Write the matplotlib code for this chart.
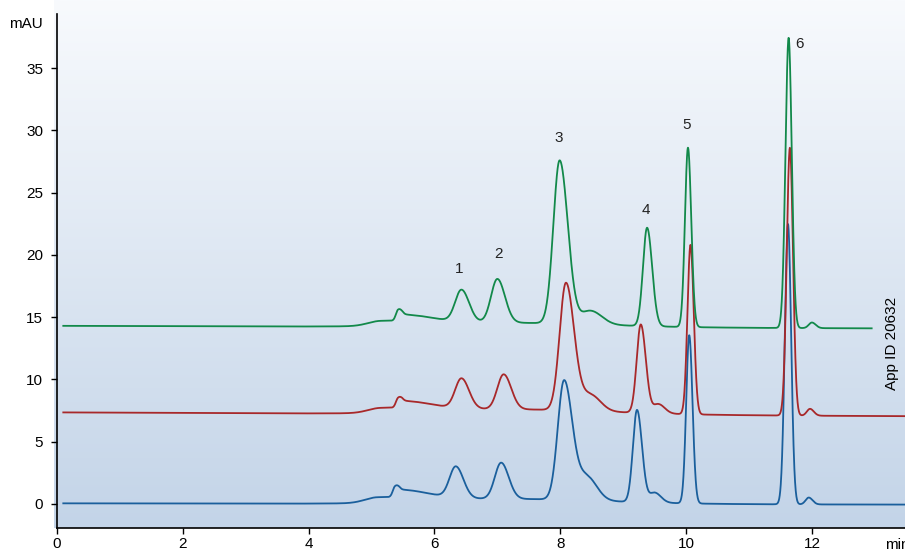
import numpy as np
import matplotlib
matplotlib.use("Agg")
import matplotlib.pyplot as plt
from matplotlib.colors import LinearSegmentedColormap

plt.rcParams['font.family'] = ['Liberation Sans', 'DejaVu Sans']

# ---- data: peak tables (time min, height mAU, left width, right width)
blue_t  = [5.10, 5.37, 5.45, 6.34, 7.06, 7.25, 8.06, 8.42, 9.22, 9.50, 10.05, 11.62, 11.95]
blue_h  = [0.45, 0.70, 0.60, 2.50, 2.90, 0.40, 9.50, 1.90, 7.40, 0.80, 13.50, 22.50, 0.55]
blue_sl = [0.20, 0.035, 0.05, 0.10, 0.10, 1.20, 0.10, 0.15, 0.065, 0.08, 0.048, 0.050, 0.05]
blue_sr = [0.80, 0.05, 0.45, 0.12, 0.12, 1.50, 0.13, 0.16, 0.08, 0.10, 0.052, 0.050, 0.06]
blue_base = [0.05, -0.05]

red_t  = [5.15, 5.42, 5.50, 6.43, 7.10, 7.30, 8.09, 8.48, 9.28, 9.56, 10.07, 11.65, 11.97]
red_h  = [0.40, 0.65, 0.55, 2.40, 2.80, 0.40, 10.20, 1.30, 7.10, 0.75, 13.60, 21.50, 0.55]
red_sl = [0.20, 0.035, 0.05, 0.10, 0.10, 1.20, 0.10, 0.15, 0.065, 0.08, 0.048, 0.050, 0.05]
red_sr = [0.80, 0.05, 0.45, 0.12, 0.12, 1.50, 0.13, 0.16, 0.08, 0.10, 0.052, 0.050, 0.06]
red_base = [7.35, 7.05]

green_t  = [5.15, 5.42, 5.50, 6.43, 7.00, 7.20, 7.99, 8.48, 9.38, 10.03, 11.63, 12.00]
green_h  = [0.40, 0.75, 0.50, 2.55, 3.50, 0.35, 13.10, 1.10, 7.90, 14.40, 23.30, 0.45]
green_sl = [0.20, 0.035, 0.05, 0.10, 0.10, 1.20, 0.10, 0.15, 0.065, 0.048, 0.050, 0.05]
green_sr = [0.80, 0.05, 0.45, 0.12, 0.12, 1.50, 0.13, 0.18, 0.08, 0.052, 0.050, 0.06]
green_base = [14.30, 14.10]

# time ranges of each recorded trace
blue_range = [0.1, 13.48]
red_range = [0.1, 13.48]
green_range = [0.1, 12.95]

# peak labels
label_text = ["1", "2", "3", "4", "5", "6"]
label_x = [6.40, 7.02, 7.98, 9.36, 10.01, 11.80]
label_y = [18.9, 20.1, 29.4, 23.6, 30.4, 36.9]

x_ticks = [0, 2, 4, 6, 8, 10, 12]
y_ticks = [0, 5, 10, 15, 20, 25, 30, 35]

colors = {"blue": "#1a5f9c", "red": "#a8282a", "green": "#12894a"}


def trace(tr, hs, sl, sr, base, rng):
    x = np.linspace(rng[0], rng[1], 5000)
    y = np.interp(x, rng, base)
    for t0, h, a, b in zip(tr, hs, sl, sr):
        s = np.where(x < t0, a, b)
        y = y + h * np.exp(-0.5 * ((x - t0) / s) ** 2)
    return x, y


fig = plt.figure(figsize=(9.05, 5.51), dpi=100)
ax = fig.add_axes([57 / 905, 23 / 551, 1 - 57 / 905, 1 - 23 / 551])
ax.set_xlim(0, 13.48)
ax.set_ylim(-1.93, 40.46)

# gradient background
cmap = LinearSegmentedColormap.from_list("bg", ["#c3d4e8", "#f8fafd"])
grad = np.linspace(0, 1, 256).reshape(-1, 1)
ax.imshow(grad, extent=[-0.003, 1, 0, 1], transform=ax.transAxes, cmap=cmap,
          aspect="auto", origin="lower", zorder=0, clip_on=False)

for name, tr, hs, sl, sr, base, rng in [
        ("blue", blue_t, blue_h, blue_sl, blue_sr, blue_base, blue_range),
        ("red", red_t, red_h, red_sl, red_sr, red_base, red_range),
        ("green", green_t, green_h, green_sl, green_sr, green_base, green_range)]:
    x, y = trace(tr, hs, sl, sr, base, rng)
    ax.plot(x, y, color=colors[name], lw=1.3, zorder=2)

for s, xx, yy in zip(label_text, label_x, label_y):
    ax.text(xx, yy, s, ha="center", va="center", fontsize=11, color="#222222")

ax.spines["top"].set_visible(False)
ax.spines["right"].set_visible(False)
ax.spines["left"].set_bounds(-1.93, 39.3)
for sp in ["left", "bottom"]:
    ax.spines[sp].set_linewidth(1.2)
    ax.spines[sp].set_zorder(3)
ax.set_xticks(x_ticks)
ax.set_yticks(y_ticks)
ax.tick_params(direction="out", length=4, width=1, labelsize=11, colors="black")
ax.tick_params(axis="y", pad=6)
ax.tick_params(axis="x", pad=2.5)

ax.text(-0.22, 38.5, "mAU", ha="right", va="center", fontsize=11)
ax.text(13.16, -3.3, "min", ha="left", va="center", fontsize=11, clip_on=False)
ax.text(13.27, 12.9, "App ID 20632", rotation=90, ha="center", va="center", fontsize=11)

fig.savefig("out.png", dpi=100)
